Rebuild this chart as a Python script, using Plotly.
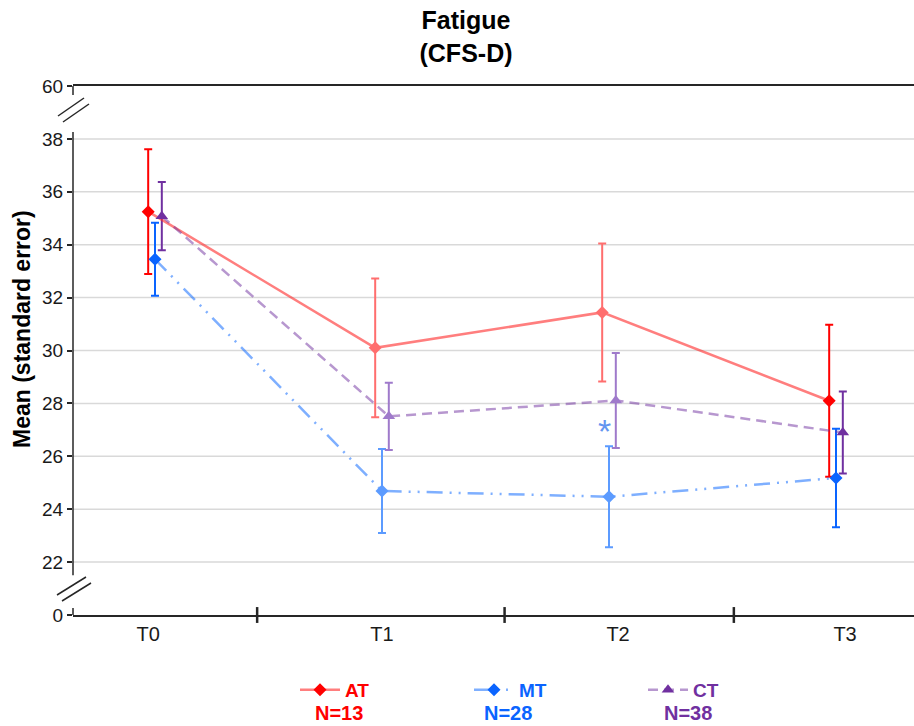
import plotly.graph_objects as go

# ---------------- data ----------------
time_points = ["T0", "T1", "T2", "T3"]
time_index = [0, 1, 2, 3]

at_mean = [35.25, 30.10, 31.44, 28.10]
at_se = [2.36, 2.62, 2.61, 2.87]
mt_mean = [33.45, 24.69, 24.47, 25.18]
mt_se = [1.38, 1.59, 1.91, 1.86]
ct_mean = [35.08, 27.51, 28.11, 26.90]
ct_se = [1.29, 1.27, 1.80, 1.55]

group_names = ["AT", "MT", "CT"]
group_n = ["N=13", "N=28", "N=38"]

# axis break: real values 0 and 60 are drawn at positions 20 and 40
y_tick_pos = [20, 22, 24, 26, 28, 30, 32, 34, 36, 38, 40]
y_tick_text = ["0", "22", "24", "26", "28", "30", "32", "34", "36", "38", "60"]
grid_vals = [22, 24, 26, 28, 30, 32, 34, 36, 38]
sig_label = "*"
sig_pos = (1.98, 26.95)

# ---------------- styling ----------------
FONT = "Liberation Sans, Arial, sans-serif"
W, H = 914, 726
L, R, T, B = 73, 0, 86, 111
PW, PH = W - L - R, H - T - B


def px_x(px):
    return (px - L) / PW


def px_y(py):
    return (H - B - py) / PH


styles = {
    "AT": dict(sat="#FF0000", light="#FF6E6E", line="rgba(255,40,40,0.6)",
               symbol="diamond", size=10, dash="solid", off=-0.03),
    "MT": dict(sat="#0A64FF", light="#5C9BFF", line="rgba(20,110,255,0.55)",
               symbol="diamond", size=10, dash="16px,7px,2px,7px,2px,7px", off=0.0),
    "CT": dict(sat="#7030A0", light="#9F7ACB", line="rgba(112,48,160,0.5)",
               symbol="triangle-up", size=11, dash="10px,6px", off=0.03),
}
series = {"AT": (at_mean, at_se), "MT": (mt_mean, mt_se), "CT": (ct_mean, ct_se)}

fig = go.Figure()

for name in group_names:
    st = styles[name]
    mean, se = series[name]
    xs = [i + st["off"] for i in time_index]
    # error bars: saturated at T0/T3, lighter at T1/T2
    for idxs, col in (([0, 3], st["sat"]), ([1, 2], st["light"])):
        fig.add_trace(go.Scatter(
            x=[xs[i] for i in idxs], y=[mean[i] for i in idxs],
            mode="markers", marker=dict(size=1, opacity=0),
            error_y=dict(type="data", array=[se[i] for i in idxs],
                         color=col, thickness=2, width=4),
            showlegend=False, hoverinfo="skip"))

for name, n in zip(group_names, group_n):
    st = styles[name]
    mean, se = series[name]
    xs = [i + st["off"] for i in time_index]
    fig.add_trace(go.Scatter(
        x=xs, y=mean, mode="lines+markers",
        name=f"<b><span style='color:{st['sat']}'>{name}</span></b>",
        line=dict(color=st["line"], width=2.5, dash=st["dash"]),
        marker=dict(symbol=st["symbol"], size=st["size"],
                    color=[st["sat"], st["light"], st["light"], st["sat"]],
                    line=dict(width=0)),
    ))

shapes = []
# gridlines
for g in grid_vals:
    shapes.append(dict(type="line", xref="paper", yref="y", x0=0, x1=1, y0=g, y1=g,
                       line=dict(color="#D9D9D9", width=1.5), layer="below"))
# broken y axis line
for y0, y1 in ((39.66, 40), (21.5, 38.26), (20, 20.26)):
    shapes.append(dict(type="line", xref="paper", yref="y", x0=0, x1=0, y0=y0, y1=y1,
                       line=dict(color="#262626", width=1.5)))
# break slashes
for (ax, ay, bx, by) in ((58, 116, 84, 98), (63, 122, 89, 104),
                         (57, 595, 86, 577), (62, 601, 91, 583)):
    shapes.append(dict(type="line", xref="paper", yref="paper",
                       x0=px_x(ax), y0=px_y(ay), x1=px_x(bx), y1=px_y(by),
                       line=dict(color="#262626", width=1.5)))
# category separators on x axis
for sx in (0.45, 1.54, 2.55):
    shapes.append(dict(type="line", xref="x", yref="paper", x0=sx, x1=sx,
                       y0=-0.015, y1=0.015, line=dict(color="#262626", width=2.5)))

annotations = [
    dict(text="<b>Mean (standard error)</b>", textangle=-90, xref="paper", yref="paper",
         x=px_x(22), y=px_y(329), xanchor="center", yanchor="middle", showarrow=False,
         font=dict(size=23, color="#000000")),
    dict(text=sig_label, x=sig_pos[0], y=sig_pos[1], xref="x", yref="y", showarrow=False,
         xanchor="center", yanchor="middle", font=dict(size=34, color="#6495F0")),
]
for name, n, cx in zip(group_names, group_n, (339, 508, 688)):
    annotations.append(dict(text=f"<b>{n}</b>", xref="paper", yref="paper",
                            x=px_x(cx), y=px_y(713), xanchor="center", yanchor="middle",
                            showarrow=False,
                            font=dict(size=20, color=styles[name]["sat"])))

fig.update_layout(
    width=W, height=H,
    margin=dict(l=L, r=R, t=T, b=B),
    paper_bgcolor="white", plot_bgcolor="white",
    font=dict(family=FONT, color="#1A1A1A"),
    title=dict(text="<b>Fatigue<br>(CFS-D)</b>", x=466 / W, xanchor="center",
               y=1 - 29 / H, yanchor="middle", font=dict(size=25, color="#000000")),
    xaxis=dict(range=[(73 - 155) / 227, (914 - 155) / 227],
               tickvals=[-0.03, 1.0, 2.04, 3.04], ticktext=time_points,
               showgrid=False, zeroline=False, showline=True, mirror=True,
               linecolor="#262626", linewidth=1.5, ticks="",
               tickfont=dict(size=20, color="#1A1A1A")),
    yaxis=dict(range=[20, 40], tickvals=y_tick_pos, ticktext=y_tick_text,
               showgrid=False, zeroline=False, showline=False,
               ticks="outside", ticklen=5, tickcolor="#262626", tickwidth=1.5,
               tickfont=dict(size=19, color="#1A1A1A")),
    shapes=shapes,
    annotations=annotations,
    legend=dict(orientation="h", x=px_x(295), xanchor="left", y=px_y(690), yanchor="middle",
                entrywidth=119, entrywidthmode="pixels", itemwidth=40,
                font=dict(size=19), bgcolor="rgba(0,0,0,0)"),
    showlegend=True,
)

fig.write_html("out.html", config={"displayModeBar": False},
               post_script="document.body.style.margin='0';")
